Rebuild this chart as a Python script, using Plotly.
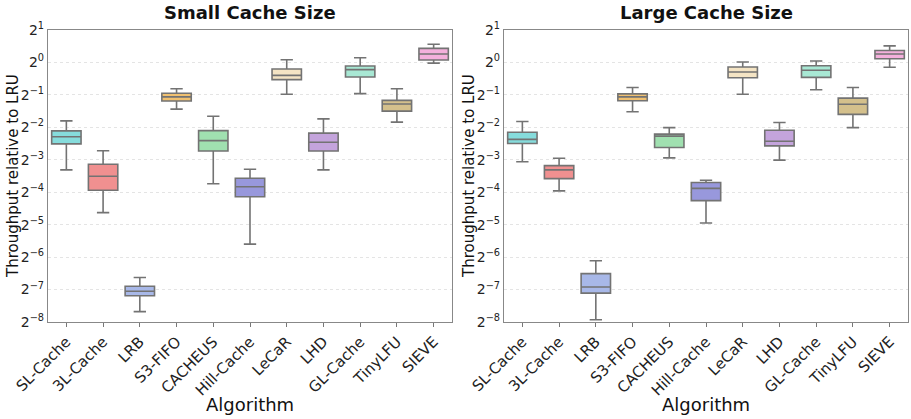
import math
import plotly.graph_objects as go

algorithms = ["SL-Cache", "3L-Cache", "LRB", "S3-FIFO", "CACHEUS", "Hill-Cache",
              "LeCaR", "LHD", "GL-Cache", "TinyLFU", "SIEVE"]

colors = ["#86dcdc", "#f09090", "#a8b8e8", "#f0c070", "#a0e0b0", "#9898dc",
          "#f4e4c4", "#c4a4dc", "#a8e8d4", "#d4c08c", "#f4b0dc"]

# values as log2 exponents
small_low = [-3.31, -4.63, -7.68, -1.44, -3.74, -5.60, -0.98, -3.31, -0.96, -1.84, -0.02]
small_q1 = [-2.51, -3.94, -7.19, -1.19, -2.73, -4.14, -0.53, -2.73, -0.45, -1.50, 0.075]
small_med = [-2.29, -3.51, -7.05, -1.06, -2.41, -3.83, -0.40, -2.46, -0.22, -1.28, 0.26]
small_q3 = [-2.11, -3.14, -6.90, -0.95, -2.10, -3.57, -0.20, -2.18, -0.11, -1.17, 0.435]
small_high = [-1.80, -2.72, -6.63, -0.81, -1.66, -3.29, 0.085, -1.74, 0.146, -0.81, 0.56]

large_low = [-3.06, -3.96, -7.93, -1.52, -2.94, -4.95, -0.98, -3.01, -0.84, -2.01, -0.15]
large_q1 = [-2.50, -3.58, -7.11, -1.18, -2.62, -4.26, -0.47, -2.57, -0.46, -1.60, 0.115]
large_med = [-2.37, -3.31, -6.92, -1.06, -2.27, -3.88, -0.295, -2.43, -0.24, -1.29, 0.26]
large_q3 = [-2.15, -3.18, -6.51, -0.97, -2.21, -3.70, -0.14, -2.09, -0.10, -1.10, 0.37]
large_high = [-1.82, -2.955, -6.11, -0.77, -2.01, -3.63, 0.014, -1.85, 0.044, -0.77, 0.51]

y_exponents = list(range(-8, 2))
y_ticktext = [("2<sup>%s</sup>" % (("\u2212%d" % -e) if e < 0 else str(e))) for e in y_exponents]

FONT = "DejaVu Sans"
fig = go.Figure()

panels = [
    (small_low, small_q1, small_med, small_q3, small_high, "x", "y"),
    (large_low, large_q1, large_med, large_q3, large_high, "x2", "y2"),
]
for low, q1, med, q3, high, xa, ya in panels:
    for i, name in enumerate(algorithms):
        fig.add_trace(go.Box(
            x=[name],
            lowerfence=[2 ** low[i]], q1=[2 ** q1[i]], median=[2 ** med[i]],
            q3=[2 ** q3[i]], upperfence=[2 ** high[i]],
            fillcolor=colors[i],
            line=dict(color="#737373", width=1.6),
            whiskerwidth=0.42, width=0.8,
            boxpoints=False, showlegend=False, hoverinfo="skip",
            xaxis=xa, yaxis=ya,
        ))

common_x = dict(
    type="category", categoryorder="array", categoryarray=algorithms,
    range=[-0.5, 10.5], tickangle=-45, ticks="outside", ticklen=4,
    tickcolor="#777777", tickfont=dict(family=FONT, size=15, color="#222"),
    showline=True, linecolor="#888888", linewidth=1.2, mirror=True,
    showgrid=False, zeroline=False, automargin=False,
)
common_y = dict(
    type="log", range=[-8 * math.log10(2), 1 * math.log10(2)],
    tickvals=[2 ** e for e in y_exponents], ticktext=y_ticktext,
    tickfont=dict(family=FONT, size=14, color="#222"),
    ticks="", showline=True, linecolor="#888888", linewidth=1.2, mirror=True,
    showgrid=True, gridcolor="#e4e4e4", griddash="dot", gridwidth=1,
    zeroline=False, automargin=False,
)

W, H = 911, 419


def px(x):
    return x / W


def py(y):
    return 1 - y / H


yd = [py(322), py(30)]
fig.update_layout(
    width=W, height=H,
    margin=dict(l=0, r=0, t=0, b=0),
    plot_bgcolor="white", paper_bgcolor="white",
    xaxis=dict(domain=[px(48), px(452)], anchor="y", **common_x),
    yaxis=dict(domain=yd, anchor="x", **common_y),
    xaxis2=dict(domain=[px(504), px(908)], anchor="y2", **common_x),
    yaxis2=dict(domain=yd, anchor="x2", **common_y),
    font=dict(family=FONT),
)

ann = []
for cx, title in [(250, "Small Cache Size"), (706, "Large Cache Size")]:
    ann.append(dict(x=px(cx), y=py(12), xref="paper", yref="paper", text="<b>%s</b>" % title,
                    showarrow=False, font=dict(family=FONT, size=18, color="#111"),
                    xanchor="center", yanchor="middle"))
for cx in [250, 706]:
    ann.append(dict(x=px(cx), y=py(404), xref="paper", yref="paper", text="Algorithm",
                    showarrow=False, font=dict(family=FONT, size=18, color="#111"),
                    xanchor="center", yanchor="middle"))
for cx in [13, 469]:
    ann.append(dict(x=px(cx), y=py(176), xref="paper", yref="paper",
                    text="Throughput relative to LRU", textangle=-90,
                    showarrow=False, font=dict(family=FONT, size=15, color="#111"),
                    xanchor="center", yanchor="middle"))
fig.update_layout(annotations=ann)

# remove the default page margin so the figure fills the window exactly
fig.write_html("out.html", config={"displayModeBar": False},
               post_script="document.body.style.margin='0';document.body.style.overflow='hidden';")
